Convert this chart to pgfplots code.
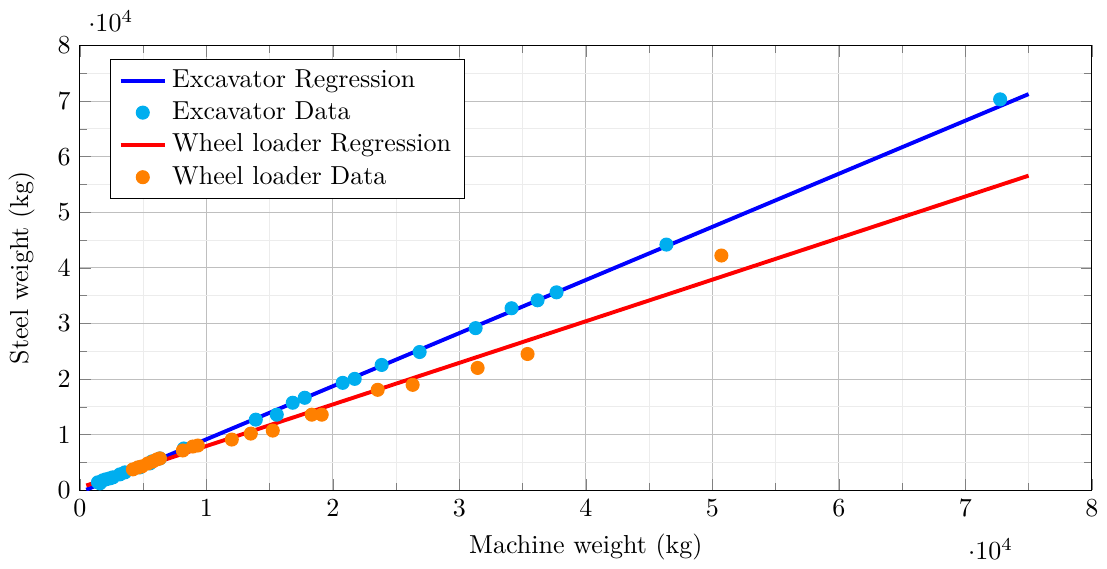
\documentclass[border=0pt]{standalone}
\usepackage{pgfplots}
\pgfplotsset{compat=1.18}
\definecolor{excdot}{RGB}{0,174,239}
\definecolor{wldot}{RGB}{255,128,0}
\begin{document}
\begin{tikzpicture}
\begin{axis}[
  scale only axis,
  width=389pt, height=171pt,
  xmin=0, xmax=80000, ymin=0, ymax=80000,
  xtick={0,10000,...,80000}, ytick={0,10000,...,80000},
  minor x tick num=1, minor y tick num=1,
  grid=both,
  major grid style={gray!50},
  minor grid style={gray!15},
  xlabel={Machine weight (kg)},
  ylabel={Steel weight (kg)},
  ylabel style={yshift=2pt},
  legend style={at={(0.03,0.97)}, anchor=north west, cells={anchor=west}},
]
\addplot[blue, line width=1.5pt] coordinates {(500,98) (75000,71250)};
\addlegendentry{Excavator Regression}
\addplot[only marks, mark=*, mark size=2.5pt, color=excdot, mark options={fill=excdot, draw=excdot}] coordinates {
(1422,1431) (1580,1252) (1817,1789) (2054,1968) (2370,2147) (2607,2326)
(3160,2862) (3555,3220) (4739,4114) (5529,4830) (5687,5188) (6319,5725)
(8215,7513) (13902,12701) (15561,13596) (16825,15742) (17773,16637)
(20774,19320) (21722,20036) (23855,22540) (26856,24866) (31280,29159)
(34123,32737) (36177,34168) (37678,35599) (46367,44186) (72749,70304)
};
\addlegendentry{Excavator Data}
\addplot[red, line width=1.5pt] coordinates {(500,854) (75000,56580)};
\addlegendentry{Wheel loader Regression}
\addplot[only marks, mark=*, mark size=2.5pt, color=wldot, mark options={fill=wldot, draw=wldot}] coordinates {
(4186,3757) (4581,4114) (4897,4293) (5371,4830) (5766,5188) (6082,5546)
(6319,5725) (8136,7156) (8926,7871) (9321,8050) (12006,9123) (13507,10197)
(15245,10733) (18325,13596) (19115,13596) (23539,18068) (26303,18962)
(31438,22004) (35387,24508) (50711,42218)
};
\addlegendentry{Wheel loader Data}
\end{axis}
\path ([yshift=4pt]current bounding box.north);
\end{tikzpicture}
\end{document}
